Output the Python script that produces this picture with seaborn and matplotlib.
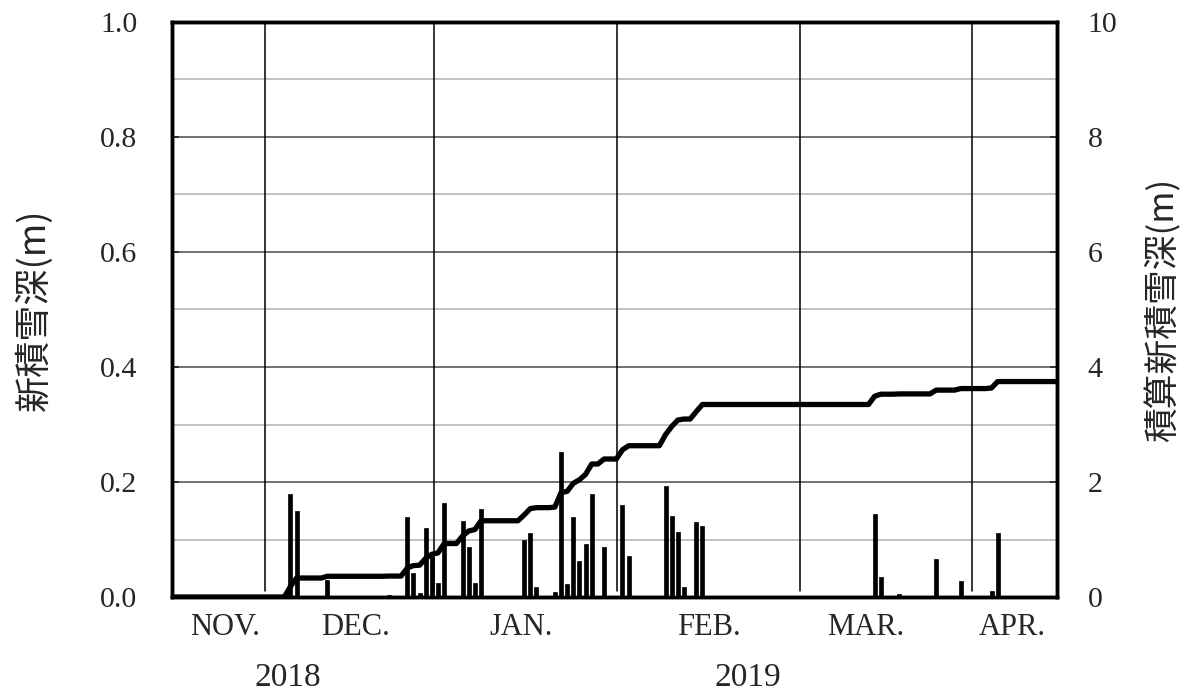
import numpy as np
import pandas as pd
import matplotlib
matplotlib.use("Agg")
import matplotlib.pyplot as plt
import matplotlib.transforms as mtransforms
import seaborn as sns

sns.set_theme(style="white")
plt.rcParams['font.family'] = ['Liberation Serif', 'DejaVu Sans']

# day index (from the start of the plotted period) and new snow depth (m)
snow_day = [19, 20, 25, 35, 38, 39, 40, 41, 42, 43, 44, 47, 48, 49, 50,
            57, 58, 59, 62, 63, 64, 65, 66, 67, 68, 70, 73, 74,
            80, 81, 82, 83, 85, 86, 114, 115, 118, 124, 128, 133, 134]
snow_new = [0.18, 0.15, 0.03, 0.004, 0.14, 0.042, 0.007, 0.12, 0.07, 0.024, 0.163,
            0.132, 0.087, 0.024, 0.153, 0.10, 0.111, 0.017, 0.009, 0.252, 0.022,
            0.14, 0.063, 0.093, 0.18, 0.087, 0.16, 0.071, 0.193, 0.141, 0.113,
            0.017, 0.13, 0.123, 0.144, 0.035, 0.005, 0.066, 0.027, 0.01, 0.112]
n_days = 145

month_names = ['NOV.', 'DEC.', 'JAN.', 'FEB.', 'MAR.', 'APR.']
month_label_x = [8.4, 29.5, 56.5, 87.0, 112.6, 136.3]
month_lines = [14.9, 42.35, 72.1, 101.9, 129.8]
years = ['2018', '2019']
year_x = [18.5, 93.3]

daily = pd.DataFrame({'day': np.arange(n_days), 'new': 0.0})
daily.loc[snow_day, 'new'] = snow_new
daily['total'] = daily['new'].cumsum()
bars = pd.DataFrame({'day': snow_day, 'new': snow_new})

jp = ['Noto Sans CJK JP', 'DejaVu Sans']

fig = plt.figure(figsize=(11.87, 6.94), dpi=100)
ax = fig.add_axes([172 / 1187, 1 - 597 / 694, 885 / 1187, 575 / 694])

sns.barplot(data=bars, x='day', y='new', native_scale=True, width=0.65,
            color='black', edgecolor='black', linewidth=0.5, ax=ax, zorder=3)

ax.set_xlim(-0.25, 143.65)
ax.set_ylim(0, 1.0)
ax.set_yticks(np.arange(0, 1.01, 0.2))
ax.set_yticks(np.arange(0.1, 1.0, 0.2), minor=True)
ax.set_yticklabels([f'{v:.1f}' for v in np.arange(0, 1.01, 0.2)])
ax.grid(which='major', axis='y', color='#4a4a4a', lw=1.1, zorder=0)
ax.grid(which='minor', axis='y', color='#b0b0b0', lw=1.1, zorder=0)
ax.set_xticks([])
ax.set_xlabel('')
for xv in month_lines:
    ax.axvline(xv, ymin=0.01, ymax=1, color='black', lw=1.1, zorder=1)

ax.tick_params(axis='y', which='major', direction='in', length=5, width=1.2,
               pad=25, labelsize=21.5, left=True)
ax.tick_params(axis='y', which='minor', length=0)
for s in ax.spines.values():
    s.set_color('black')
    s.set_linewidth(2.5)
ax.set_ylabel('新積雪深(m)', family=jp, fontsize=26, labelpad=34)

ax2 = ax.twinx()
sns.lineplot(data=daily, x='day', y='total', color='black', lw=3.8,
             ax=ax2, zorder=4, solid_joinstyle='round', solid_capstyle='round')
ax2.set_ylim(0, 10)
ax2.set_yticks(range(0, 11, 2))
ax2.tick_params(axis='y', direction='in', length=5, width=1.2, pad=22,
                labelsize=21.5, right=True)
ax2.set_xlim(-0.25, 143.65)
ax2.set_xlabel('')
ax2.set_ylabel('積算新積雪深(m)', family=jp, fontsize=25, labelpad=20)
for s in ax2.spines.values():
    s.set_linewidth(2.5)
    s.set_color('black')

trans = mtransforms.blended_transform_factory(ax.transData, ax.transAxes)
for name, xv in zip(month_names, month_label_x):
    ax.text(xv, -0.053, name, transform=trans, ha='center', va='center', fontsize=22)
for name, xv in zip(years, year_x):
    ax.text(xv, -0.14, name, transform=trans, ha='center', va='center', fontsize=24)

fig.savefig('out.png', dpi=100)
